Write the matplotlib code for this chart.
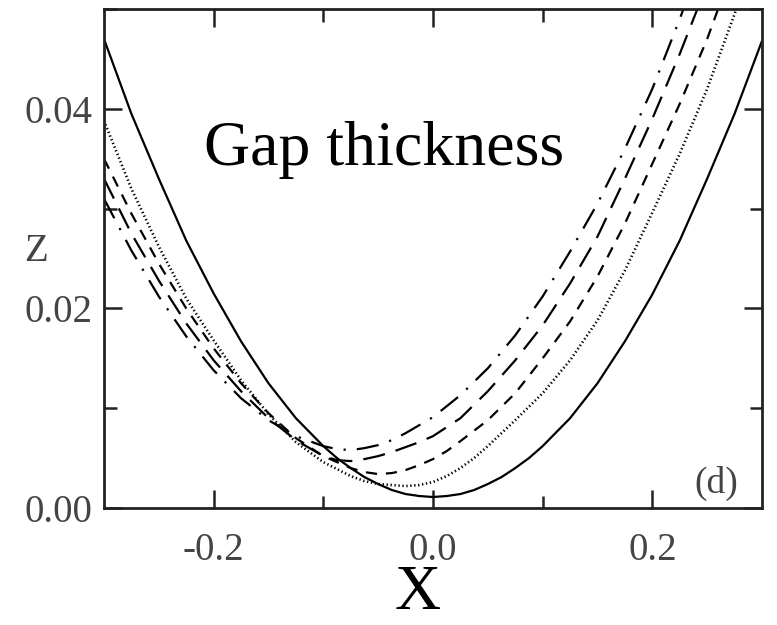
import matplotlib.pyplot as plt

# curves: x positions and gap thickness z
x_solid = [-0.300, -0.275, -0.250, -0.225, -0.200, -0.175, -0.150, -0.125,
           -0.100, -0.0875, -0.075, -0.0625, -0.050, -0.0375, -0.025,
           -0.0125, 0.000, 0.0125, 0.025, 0.0375, 0.050, 0.0625, 0.075,
           0.0875, 0.100, 0.125, 0.150, 0.175, 0.200, 0.225, 0.250, 0.275,
           0.300]
z_solid = [0.0470, 0.0395, 0.0330, 0.0268, 0.0215, 0.0167, 0.0125, 0.0090,
           0.0062, 0.0050, 0.0040, 0.0031, 0.0024, 0.0018, 0.0014, 0.0012,
           0.0011, 0.0012, 0.0014, 0.0018, 0.0024, 0.0031, 0.0040, 0.0050,
           0.0062, 0.0090, 0.0125, 0.0167, 0.0214, 0.0268, 0.0330, 0.0395,
           0.0468]

x_dotted = [-0.300, -0.275, -0.250, -0.225, -0.200, -0.175, -0.150, -0.125,
            -0.100, -0.075, -0.0625, -0.050, -0.0375, -0.025, -0.0125,
            0.000, 0.0125, 0.025, 0.0375, 0.050, 0.075, 0.100, 0.125, 0.150,
            0.175, 0.200, 0.225, 0.250, 0.275, 0.300]
z_dotted = [0.0388, 0.0320, 0.0262, 0.0210, 0.0168, 0.0128, 0.0094, 0.0066,
            0.0046, 0.0032, 0.0027, 0.0024, 0.0023, 0.0022, 0.0023, 0.0026,
            0.0032, 0.0040, 0.0050, 0.0062, 0.0088, 0.0115, 0.0148, 0.0188,
            0.0238, 0.0296, 0.0355, 0.0420, 0.0495, 0.0575]

x_dashed = [-0.300, -0.275, -0.250, -0.225, -0.200, -0.175, -0.150, -0.125,
            -0.100, -0.075, -0.0625, -0.050, -0.0375, -0.025, -0.0125,
            0.000, 0.0125, 0.025, 0.050, 0.075, 0.100, 0.125, 0.150, 0.175,
            0.200, 0.225, 0.250, 0.275]
z_dashed = [0.0350, 0.0295, 0.0245, 0.0200, 0.0160, 0.0125, 0.0095, 0.0070,
            0.0052, 0.0040, 0.0036, 0.0034, 0.0035, 0.0038, 0.0043, 0.0049,
            0.0057, 0.0067, 0.0088, 0.0115, 0.0150, 0.0187, 0.0232, 0.0285,
            0.0345, 0.0405, 0.0470, 0.0545]

x_longdash = [-0.300, -0.275, -0.250, -0.225, -0.200, -0.175, -0.150,
              -0.125, -0.100, -0.0875, -0.075, -0.0625, -0.050, -0.0375,
              -0.025, -0.0125, 0.000, 0.025, 0.050, 0.075, 0.100, 0.125,
              0.150, 0.175, 0.200, 0.225, 0.250]
z_longdash = [0.0330, 0.0275, 0.0228, 0.0185, 0.0148, 0.0117, 0.0090, 0.0068,
              0.0052, 0.0048, 0.0047, 0.0049, 0.0052, 0.0056, 0.0061, 0.0066,
              0.0072, 0.0090, 0.0117, 0.0148, 0.0183, 0.0225, 0.0272, 0.0330,
              0.0390, 0.0455, 0.0525]

x_dashdot = [-0.300, -0.275, -0.250, -0.225, -0.200, -0.175, -0.150, -0.125,
             -0.100, -0.0875, -0.075, -0.0625, -0.050, -0.0375, -0.025,
             -0.0125, 0.000, 0.025, 0.050, 0.075, 0.100, 0.125, 0.150,
             0.175, 0.200, 0.225, 0.250]
z_dashdot = [0.0310, 0.0258, 0.0212, 0.0172, 0.0138, 0.0110, 0.0088, 0.0072,
             0.0062, 0.0059, 0.0058, 0.0060, 0.0063, 0.0068, 0.0075, 0.0083,
             0.0091, 0.0113, 0.0140, 0.0173, 0.0212, 0.0257, 0.0305, 0.0360,
             0.0420, 0.0490, 0.0565]

x_ticks = [-0.2, 0.0, 0.2]
x_tick_labels = ["-0.2", "0.0", "0.2"]
y_ticks = [0.00, 0.02, 0.04]
y_tick_labels = ["0.00", "0.02", "0.04"]

plt.rcParams['font.family'] = ['Liberation Serif', 'DejaVu Serif']

fig = plt.figure(figsize=(7.77, 6.25), dpi=100)
ax = fig.add_axes([0.1338, 0.1872, 0.8469, 0.7984])

lw = 1.6
ax.plot(x_solid, z_solid, color='black', lw=lw, linestyle='-')
ax.plot(x_dotted, z_dotted, color='black', lw=1.9,
        linestyle=(0, (0.5, 1.0)))
ax.plot(x_dashed, z_dashed, color='black', lw=lw, linestyle=(0, (5, 4)))
ax.plot(x_longdash, z_longdash, color='black', lw=lw,
        linestyle=(0, (10, 5)))
ax.plot(x_dashdot, z_dashdot, color='black', lw=lw,
        linestyle=(0, (10, 5, 1, 5)))

ax.set_xlim(-0.3, 0.3)
ax.set_ylim(0.0, 0.05)

ax.set_xticks(x_ticks)
ax.set_xticklabels(x_tick_labels)
ax.set_xticks([-0.1, 0.1], minor=True)
ax.set_yticks(y_ticks)
ax.set_yticklabels(y_tick_labels)
ax.set_yticks([0.01, 0.03, 0.05], minor=True)

ax.tick_params(which='both', direction='in', top=True, right=True,
               color='#222222', width=1.8, labelsize=28, labelcolor='#444444')
ax.tick_params(which='major', length=13)
ax.tick_params(which='minor', length=9)
ax.tick_params(axis='x', pad=17)
ax.tick_params(axis='y', pad=8)

for spine in ax.spines.values():
    spine.set_linewidth(2.0)
    spine.set_color('#222222')

ax.text(-0.103, 0.515, "Z", transform=ax.transAxes, fontsize=28,
        color='#444444', ha='center', va='center')
ax.text(0.426, 0.687, "Gap thickness", transform=ax.transAxes, fontsize=46,
        ha='center', va='baseline')
ax.text(0.9635, 0.015, "(d)", transform=ax.transAxes, fontsize=27,
        color='#444444', ha='right', va='bottom')
fig.text(418 / 777, 1 - 594 / 625, "X", fontsize=46, ha='center',
         va='center')

fig.savefig("out.png", dpi=100)
